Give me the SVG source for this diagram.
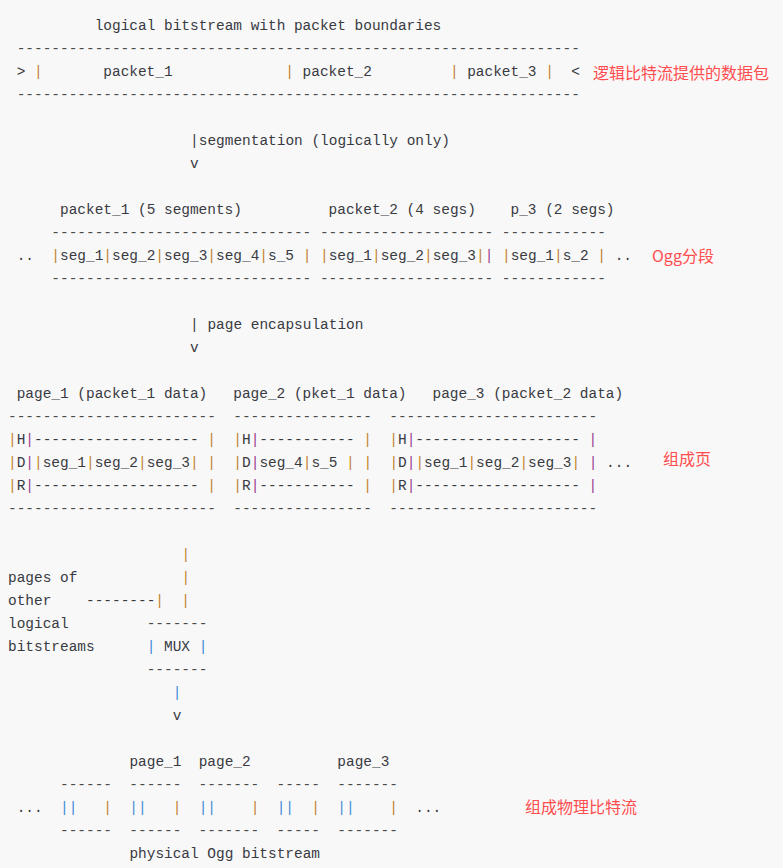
<svg xmlns="http://www.w3.org/2000/svg" width="783" height="868" viewBox="0 0 783 868" xml:space="preserve">
<style>
.t{font-family:"Liberation Mono","DejaVu Sans Mono",monospace;font-size:14.45px;fill:#383a42;white-space:pre}
.d{fill:#4a4a4a}
.o{fill:#c0802e}
.p{fill:#9a3a8e}
.b{fill:#3b8ad6}
.cn{font-family:"Noto Sans CJK SC","Noto Sans",sans-serif;font-size:16px;fill:#ff4d4f}
</style>
<rect x="0" y="0" width="783" height="868" fill="#f8f8f8"/>
<g id="logical-bitstream">
<text xml:space="preserve" class="t" x="94.7" y="30">logical bitstream with packet boundaries</text>
<text xml:space="preserve" class="t d" x="16.67" y="53">-----------------------------------------------------------------</text>
<text xml:space="preserve" class="t" x="16.67" y="76">&gt; <tspan class="o">|</tspan>       packet_1             <tspan class="o">|</tspan> packet_2         <tspan class="o">|</tspan> packet_3 <tspan class="o">|</tspan>  &lt;</text>
<text xml:space="preserve" class="t d" x="16.67" y="99">-----------------------------------------------------------------</text>
<text class="cn" x="593" y="79">逻辑比特流提供的数据包</text>
</g>
<g id="connectors">
<text xml:space="preserve" class="t" x="190.1" y="145">|segmentation (logically only)</text>
<text class="t" x="190.1" y="168">v</text>
<text xml:space="preserve" class="t" x="190.1" y="329">| page encapsulation</text>
<text class="t" x="190.1" y="352">v</text>
<text class="t o" x="181.4" y="559">|</text>
<text class="t o" x="181.4" y="582">|</text>
<text xml:space="preserve" class="t" x="86.0" y="605">--------<tspan class="o">|</tspan>  <tspan class="o">|</tspan></text>
<text class="t b" x="172.7" y="697">|</text>
<text class="t" x="172.7" y="720">v</text>
</g>
<g id="segments">
<text xml:space="preserve" class="t" x="60.0" y="214">packet_1 (5 segments)          packet_2 (4 segs)    p_3 (2 segs)</text>
<text xml:space="preserve" class="t d" x="51.35" y="237">------------------------------ -------------------- ------------</text>
<text xml:space="preserve" class="t" x="16.67" y="260">..  <tspan class="o">|</tspan>seg_1<tspan class="o">|</tspan>seg_2<tspan class="o">|</tspan>seg_3<tspan class="o">|</tspan>seg_4<tspan class="o">|</tspan>s_5 <tspan class="o">|</tspan> <tspan class="o">|</tspan>seg_1<tspan class="o">|</tspan>seg_2<tspan class="o">|</tspan>seg_3<tspan class="o">|</tspan><tspan class="p">|</tspan> <tspan class="o">|</tspan>seg_1<tspan class="o">|</tspan>s_2 <tspan class="o">|</tspan> ..</text>
<text xml:space="preserve" class="t d" x="51.35" y="283">------------------------------ -------------------- ------------</text>
<text class="cn" x="652" y="262">Ogg分段</text>
</g>
<g id="pages">
<text xml:space="preserve" class="t" x="16.67" y="398">page_1 (packet_1 data)   page_2 (pket_1 data)   page_3 (packet_2 data)</text>
<text xml:space="preserve" class="t d" x="8" y="421">------------------------  ----------------  ------------------------</text>
<text xml:space="preserve" class="t" x="8" y="444"><tspan class="o">|</tspan>H<tspan class="p">|</tspan>------------------- <tspan class="o">|</tspan>  <tspan class="o">|</tspan>H<tspan class="p">|</tspan>----------- <tspan class="o">|</tspan>  <tspan class="o">|</tspan>H<tspan class="p">|</tspan>------------------- <tspan class="p">|</tspan></text>
<text xml:space="preserve" class="t" x="8" y="467"><tspan class="o">|</tspan>D<tspan class="p">|</tspan><tspan class="o">|</tspan>seg_1<tspan class="o">|</tspan>seg_2<tspan class="o">|</tspan>seg_3<tspan class="o">|</tspan> <tspan class="o">|</tspan>  <tspan class="o">|</tspan>D<tspan class="p">|</tspan>seg_4<tspan class="o">|</tspan>s_5 <tspan class="o">|</tspan> <tspan class="o">|</tspan>  <tspan class="o">|</tspan>D<tspan class="p">|</tspan><tspan class="o">|</tspan>seg_1<tspan class="o">|</tspan>seg_2<tspan class="o">|</tspan>seg_3<tspan class="o">|</tspan> <tspan class="p">|</tspan> ...</text>
<text xml:space="preserve" class="t" x="8" y="490"><tspan class="o">|</tspan>R<tspan class="p">|</tspan>------------------- <tspan class="o">|</tspan>  <tspan class="o">|</tspan>R<tspan class="p">|</tspan>----------- <tspan class="o">|</tspan>  <tspan class="o">|</tspan>R<tspan class="p">|</tspan>------------------- <tspan class="p">|</tspan></text>
<text xml:space="preserve" class="t d" x="8" y="513">------------------------  ----------------  ------------------------</text>
<text class="cn" x="663" y="465">组成页</text>
</g>
<g id="other-streams">
<text xml:space="preserve" class="t" x="8" y="582">pages of</text>
<text class="t" x="8" y="605">other</text>
<text class="t" x="8" y="628">logical</text>
<text class="t" x="8" y="651">bitstreams</text>
</g>
<g id="mux">
<text class="t d" x="146.7" y="628">-------</text>
<text xml:space="preserve" class="t" x="146.7" y="651"><tspan class="b">|</tspan> MUX <tspan class="b">|</tspan></text>
<text class="t d" x="146.7" y="674">-------</text>
</g>
<g id="physical-bitstream">
<text xml:space="preserve" class="t" x="129.4" y="766">page_1  page_2          page_3</text>
<text xml:space="preserve" class="t d" x="60.0" y="789">------  ------  -------  -----  -------</text>
<text xml:space="preserve" class="t" x="16.67" y="812">...  <tspan class="b">||</tspan>   <tspan class="o">|</tspan>  <tspan class="b">||</tspan>   <tspan class="o">|</tspan>  <tspan class="b">||</tspan>    <tspan class="o">|</tspan>  <tspan class="b">||</tspan>  <tspan class="o">|</tspan>  <tspan class="b">||</tspan>    <tspan class="o">|</tspan>  ...</text>
<text xml:space="preserve" class="t d" x="60.0" y="835">------  ------  -------  -----  -------</text>
<text xml:space="preserve" class="t" x="129.4" y="858">physical Ogg bitstream</text>
<text class="cn" x="525" y="813">组成物理比特流</text>
</g>
</svg>
